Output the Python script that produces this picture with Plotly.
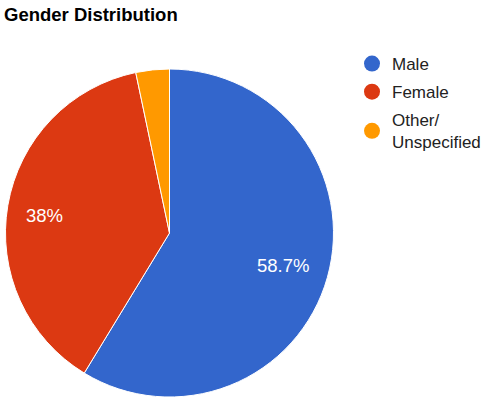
import math
import plotly.graph_objects as go

labels = ["Male", "Female", "Other/<br>Unspecified"]
values = [58.7, 38.0, 3.3]
colors = ["#3366CC", "#DC3912", "#FF9900"]
shown_text = [f"{v:g}%" if v >= 5 else "" for v in values]

W, H = 491, 400
# pie geometry in pixels
cx, cy, r = 169.5, 233, 164
dom_x = [(cx - r) / W, (cx + r) / W]
dom_y = [(H - cy - r) / H, (H - cy + r) / H]

fig = go.Figure()
fig.add_trace(go.Pie(
    labels=labels, values=values, sort=False, direction="clockwise", rotation=0,
    marker=dict(colors=colors, line=dict(color="white", width=1)),
    textinfo="none", showlegend=False, hoverinfo="label+percent",
    domain=dict(x=dom_x, y=dom_y),
))
for lab, col in zip(labels, colors):
    fig.add_trace(go.Scatter(
        x=[None], y=[None], mode="markers", name=lab, legendgroup=lab,
        marker=dict(color=col, size=16, symbol="circle"),
    ))

# slice labels: outer corner of the text box sits at a fixed fraction of the radius
FS = 18.5
CW = {".": 0.278, "%": 0.889}
total = sum(values)
cum = 0.0
for v, t in zip(values, shown_text):
    mid = (cum + v / 2) / total * 2 * math.pi
    cum += v
    if not t:
        continue
    ux, uy = math.sin(mid), -math.cos(mid)
    hw = sum(CW.get(ch, 0.556) for ch in t) * FS / 2
    hh = 0.36 * FS
    corner_x = cx + 0.885 * r * ux
    corner_y = cy + 0.885 * r * uy
    px = corner_x - math.copysign(hw, ux)
    py = corner_y - math.copysign(hh, uy)
    fig.add_annotation(x=px / W, y=1 - py / H, xref="paper", yref="paper",
                       xanchor="center", yanchor="middle",
                       text=t, showarrow=False, borderpad=0,
                       font=dict(color="white", size=FS, family="Liberation Sans, Arial"))

fig.update_layout(
    width=W, height=H,
    margin=dict(l=0, r=0, t=0, b=0, autoexpand=False),
    paper_bgcolor="white", plot_bgcolor="white",
    font=dict(family="Liberation Sans, Arial", color="#222222"),
    title=dict(text="<b>Gender Distribution</b>", x=4 / W, xanchor="left",
               y=1 - 15 / H, yanchor="middle", xref="paper", yref="container",
               font=dict(size=18.5, color="#000000")),
    legend=dict(x=352 / W, xanchor="left", y=1 - 46 / H, yanchor="top",
                font=dict(size=17, color="#222222"), bgcolor="rgba(0,0,0,0)",
                tracegroupgap=3),
    xaxis=dict(visible=False), yaxis=dict(visible=False),
)
fig.write_html("out.html", config={"displayModeBar": False},
               post_script="document.body.style.margin='0px';")
